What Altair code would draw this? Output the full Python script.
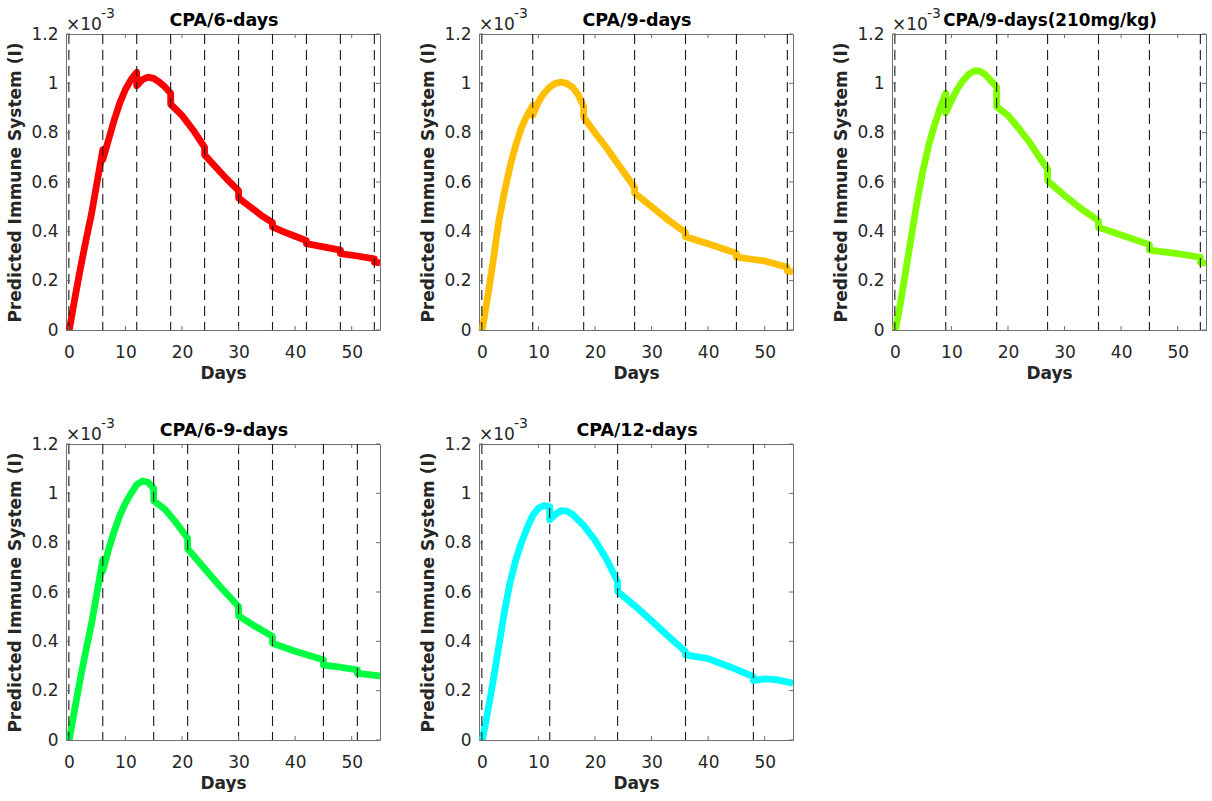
import altair as alt
import pandas as pd

# ---------------- data ----------------
TITLES = ["CPA/6-days", "CPA/9-days", "CPA/9-days(210mg/kg)", "CPA/6-9-days", "CPA/12-days"]
COLORS = ["#FF0000", "#FFBF00", "#80FF00", "#00FF40", "#00FFFF"]

X_TICKS = [0, 10, 20, 30, 40, 50]
Y_TICKS = [0, 0.2, 0.4, 0.6, 0.8, 1.0, 1.2]

# dose (treatment) days, drawn as dashed vertical lines
DOSES_6 = [0, 6, 12, 18, 24, 30, 36, 42, 48, 54]
DOSES_9 = [0, 9, 18, 27, 36, 45, 54]
DOSES_9_210 = [0, 9, 18, 27, 36, 45, 54]
DOSES_6_9 = [0, 6, 15, 21, 30, 36, 45, 51]
DOSES_12 = [0, 12, 24, 36, 48]

# predicted immune system (x 1e-3); repeated days mark the jumps at doses
DAYS_6 = [0, 1, 2, 3, 4, 5, 6, 6, 7, 8, 9, 10, 11, 12, 12, 13, 14, 15, 16, 17, 18, 18,
          20, 22, 24, 24, 26, 28, 30, 30, 32, 34, 36, 36, 38, 40, 42, 42, 45, 48, 48,
          51, 54, 54, 55]
IMMUNE_6 = [-0.01, 0.12, 0.245, 0.36, 0.47, 0.6, 0.73, 0.69, 0.77, 0.85, 0.92, 0.975,
            1.015, 1.045, 0.99, 1.015, 1.025, 1.02, 1.005, 0.985, 0.96, 0.915,
            0.87, 0.81, 0.74, 0.71, 0.66, 0.61, 0.565, 0.535, 0.5, 0.465, 0.435, 0.418,
            0.398, 0.38, 0.362, 0.35, 0.337, 0.324, 0.31, 0.3, 0.288, 0.275, 0.272]

DAYS_9 = [0, 1, 2, 3, 4, 5, 6, 7, 8, 9, 9, 10, 11, 12, 13, 14, 15, 16, 17, 18, 18,
          20, 22, 24, 26, 27, 27, 30, 33, 36, 36, 40, 45, 45, 50, 54, 54, 55]
IMMUNE_9 = [-0.01, 0.13, 0.28, 0.44, 0.56, 0.665, 0.75, 0.82, 0.87, 0.91, 0.87, 0.925,
            0.96, 0.985, 1.0, 1.005, 1.0, 0.985, 0.955, 0.905, 0.862,
            0.8, 0.74, 0.675, 0.61, 0.578, 0.555, 0.5, 0.445, 0.395, 0.378, 0.35,
            0.311, 0.295, 0.28, 0.254, 0.24, 0.235]

DAYS_9_210 = [0, 1, 2, 3, 4, 5, 6, 7, 8, 9, 9, 10, 11, 12, 13, 14, 15, 16, 17, 18, 18,
              20, 22, 24, 26, 27, 27, 30, 33, 36, 36, 40, 45, 45, 50, 54, 54, 55]
IMMUNE_9_210 = [-0.01, 0.11, 0.25, 0.39, 0.53, 0.65, 0.75, 0.83, 0.9, 0.96, 0.88, 0.93,
                0.975, 1.01, 1.035, 1.05, 1.05, 1.035, 1.01, 0.985, 0.905,
                0.87, 0.815, 0.755, 0.685, 0.653, 0.605, 0.545, 0.49, 0.443, 0.416,
                0.385, 0.346, 0.324, 0.31, 0.295, 0.275, 0.27]

DAYS_6_9 = [0, 1, 2, 3, 4, 5, 6, 6, 7, 8, 9, 10, 11, 12, 13, 14, 15, 15, 17, 19, 21, 21,
            24, 27, 30, 30, 33, 36, 36, 40, 45, 45, 48, 51, 51, 53, 55]
IMMUNE_6_9 = [-0.01, 0.12, 0.245, 0.36, 0.47, 0.6, 0.73, 0.685, 0.77, 0.845, 0.91, 0.96,
              1.0, 1.035, 1.05, 1.045, 1.02, 0.97, 0.935, 0.88, 0.818, 0.775,
              0.695, 0.615, 0.541, 0.503, 0.46, 0.42, 0.392, 0.36, 0.325, 0.304,
              0.295, 0.284, 0.27, 0.265, 0.26]

DAYS_12 = [0, 1, 2, 3, 4, 5, 6, 7, 8, 9, 10, 11, 12, 12, 13, 14, 15, 16, 18, 20, 22, 24,
           24, 27, 30, 33, 36, 36, 40, 44, 48, 48, 50, 52, 55]
IMMUNE_12 = [-0.01, 0.11, 0.24, 0.38, 0.52, 0.64, 0.73, 0.80, 0.86, 0.91, 0.94, 0.95,
             0.945, 0.893, 0.915, 0.93, 0.928, 0.915, 0.87, 0.81, 0.735, 0.643,
             0.602, 0.545, 0.483, 0.42, 0.359, 0.345, 0.33, 0.295, 0.257, 0.241,
             0.248, 0.245, 0.23]

# ---------------- styling ----------------
W, H = 314, 296
FONT = "DejaVu Sans"
TXT = "#262626"
FRAME = "#6e6e6e"


def panel(title, days, vals, doses, color, title_size=17.5):
    line_df = pd.DataFrame({"Days": days, "I": vals, "order": list(range(len(days)))})
    xs = alt.Scale(domain=[-0.5, 55], nice=False, zero=False)
    ys = alt.Scale(domain=[0, 1.2], nice=False)
    line = alt.Chart(line_df).mark_line(
        color=color, strokeWidth=6.8, clip=True, strokeJoin="round", strokeCap="butt"
    ).encode(
        x=alt.X("Days:Q", scale=xs, axis=alt.Axis(values=X_TICKS, title="Days")),
        y=alt.Y("I:Q", scale=ys,
                axis=alt.Axis(values=Y_TICKS, format="~g", title="Predicted Immune System (I)")),
        order="order:Q",
    )
    dose_df = pd.DataFrame({"Days": doses})
    rules = alt.Chart(dose_df).mark_rule(
        color="#1a1a1a", strokeDash=[10, 6], strokeWidth=1.1
    ).encode(x="Days:Q")

    yt = pd.DataFrame({"I": Y_TICKS})
    xt = pd.DataFrame({"Days": X_TICKS})
    lt = alt.Chart(yt).mark_rule(color=FRAME, strokeWidth=1).encode(
        y="I:Q", x=alt.value(0), x2=alt.value(4))
    rt = alt.Chart(yt).mark_rule(color=FRAME, strokeWidth=1).encode(
        y="I:Q", x=alt.value(W - 4), x2=alt.value(W))
    bt = alt.Chart(xt).mark_rule(color=FRAME, strokeWidth=1).encode(
        x="Days:Q", y=alt.value(H - 4), y2=alt.value(H))
    tt = alt.Chart(xt).mark_rule(color=FRAME, strokeWidth=1).encode(
        x="Days:Q", y=alt.value(0), y2=alt.value(4))

    ttl = alt.Chart(pd.DataFrame({"t": [title]})).mark_text(
        font=FONT, fontSize=title_size, fontWeight="bold", color="black",
        align="center", baseline="alphabetic"
    ).encode(text="t:N", x=alt.value(W / 2 + 1), y=alt.value(-8))
    mult = alt.Chart(pd.DataFrame({"t": ["\u00d710"]})).mark_text(
        font=FONT, fontSize=17, color=TXT, align="left", baseline="alphabetic"
    ).encode(text="t:N", x=alt.value(0), y=alt.value(-4))
    expo = alt.Chart(pd.DataFrame({"t": ["-3"]})).mark_text(
        font=FONT, fontSize=14, color=TXT, align="left", baseline="alphabetic"
    ).encode(text="t:N", x=alt.value(35), y=alt.value(-16))

    return alt.layer(line, rules, lt, rt, bt, tt, mult, expo, ttl).properties(width=W, height=H)


p1 = panel(TITLES[0], DAYS_6, IMMUNE_6, DOSES_6, COLORS[0])
p2 = panel(TITLES[1], DAYS_9, IMMUNE_9, DOSES_9, COLORS[1])
p3 = panel(TITLES[2], DAYS_9_210, IMMUNE_9_210, DOSES_9_210, COLORS[2], title_size=16.8)
p4 = panel(TITLES[3], DAYS_6_9, IMMUNE_6_9, DOSES_6_9, COLORS[3])
p5 = panel(TITLES[4], DAYS_12, IMMUNE_12, DOSES_12, COLORS[4])

chart = alt.concat(
    p1, p2, p3, p4, p5, columns=3,
    spacing={"row": 114, "column": 99}, bounds="flush",
).properties(
    padding={"left": 6, "top": 6, "right": 0, "bottom": 0},
    background="white",
).configure_view(
    stroke=FRAME, strokeWidth=1
).configure_axis(
    grid=False, ticks=False, domain=False,
    labelFont=FONT, labelFontSize=17, labelColor=TXT, labelPadding=8,
    titleFont=FONT, titleFontSize=17, titleFontWeight="bold", titleColor=TXT,
).configure_axisX(
    labelPadding=14, titlePadding=5
).configure_axisY(
    titlePadding=6
)

chart.save("out.html", embed_options={"renderer": "svg", "actions": False})
